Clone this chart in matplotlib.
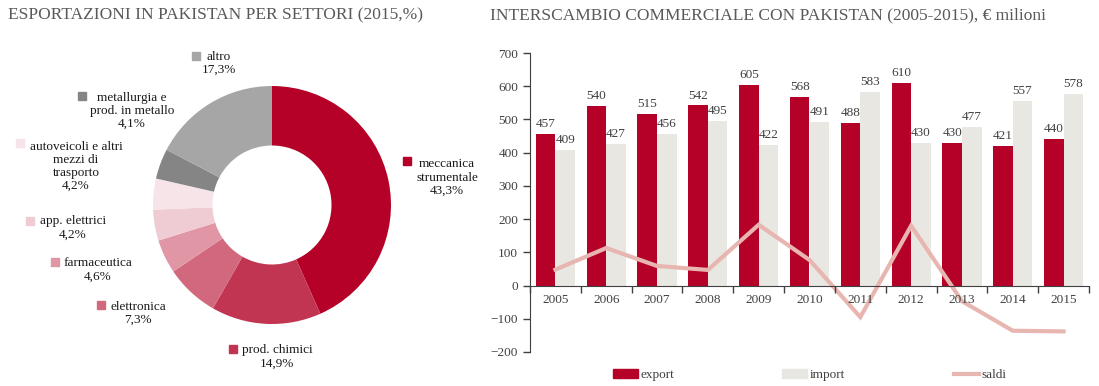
import numpy as np
import matplotlib
matplotlib.use("Agg")
import matplotlib.pyplot as plt
from matplotlib.patches import Patch
from matplotlib.lines import Line2D

plt.rcParams['font.family'] = ['Liberation Serif', 'DejaVu Serif']

# pie data (clockwise from top)
settori = ['meccanica\nstrumentale', 'prod. chimici', 'elettronica', 'farmaceutica',
           'app. elettrici', 'autoveicoli e altri\nmezzi di\ntrasporto',
           'metallurgia e\nprod. in metallo', 'altro']
quote = [43.3, 14.9, 7.3, 4.6, 4.2, 4.2, 4.1, 17.3]
colori_pie = ['#B50027', '#C23552', '#D2687D', '#E196A5', '#EFCCD3', '#F7E4E8',
              '#858585', '#A6A6A6']

# bar data
anni = ['2005', '2006', '2007', '2008', '2009', '2010', '2011', '2012', '2013', '2014', '2015']
export = [457, 540, 515, 542, 605, 568, 488, 610, 430, 421, 440]
imp = [409, 427, 456, 495, 422, 491, 583, 430, 477, 557, 578]
saldi = [e - i for e, i in zip(export, imp)]

W, H = 1099, 386
fig = plt.figure(figsize=(W / 100, H / 100), dpi=100)

def fx(x):
    return x / W

def fy(y):
    return 1 - y / H

gray_title = '#595959'
txt = '#1a1a1a'

# titles
fig.text(fx(8), fy(15), 'ESPORTAZIONI IN PAKISTAN PER SETTORI (2015,%)', fontsize=12.5,
         color=gray_title, va='center', ha='left')
fig.text(fx(490), fy(15), 'INTERSCAMBIO COMMERCIALE CON PAKISTAN (2005-2015), € milioni',
         fontsize=12.5, color=gray_title, va='center', ha='left')

# ---- donut ----
cx, cy, R = 272, 205, 119
ax1 = fig.add_axes([fx(cx - R), fy(cy + R), 2 * R / W, 2 * R / H])
ax1.pie(quote, colors=colori_pie, startangle=90, counterclock=False,
        radius=1, wedgeprops=dict(width=0.5, linewidth=0))
ax1.set_xlim(-1, 1)
ax1.set_ylim(-1, 1)
ax1.set_aspect('auto')
ax1.axis('off')

# label positions in pixels: (text center x, text center y, square x, square y)
label_pos = [(447, 177.5, 407, 161), (277, 357, 233, 349), (138, 313.5, 101, 305),
             (98, 270, 55, 262), (73, 228, 30, 221), (76, 166.5, 20, 143),
             (132, 111, 82, 96), (219, 63.5, 196, 56)]
for name, q, col, (tx, ty, sx, sy) in zip(settori, quote, colori_pie, label_pos):
    lab = name + '\n' + ('%.1f%%' % q).replace('.', ',')
    fig.text(fx(tx), fy(ty), lab, ha='center', va='center', multialignment='center',
             fontsize=9.5, color=txt, linespacing=1.12)
    ax1.plot([fx(sx)], [fy(sy)], marker='s', markersize=5.2, color=col,
             transform=fig.transFigure, clip_on=False)

# ---- bars ----
ax2 = fig.add_axes([fx(530), fy(352), (1089 - 530) / W, (352 - 53) / H])
ax2.set_axisbelow(False)  # axis (and year labels) above the saldi line
x = np.arange(len(anni))
bw = 0.385
c_exp = '#B50027'
c_imp = '#E9E7E2'
c_sal = '#E8B6B0'
ax2.bar(x - bw / 2, export, bw, color=c_exp, zorder=2)
ax2.bar(x + bw / 2, imp, bw, color=c_imp, zorder=2)
ax2.plot(x, saldi, color=c_sal, lw=3, zorder=2.3, solid_joinstyle='miter')

for xi, e, i in zip(x, export, imp):
    ax2.text(xi - bw / 2, e + 12, str(e), ha='center', va='bottom', fontsize=9.5, color='#404040')
    ax2.text(xi + bw / 2, i + 12, str(i), ha='center', va='bottom', fontsize=9.5, color='#404040')

ax2.set_xlim(-0.5, len(anni) - 0.5)
ax2.set_ylim(-200, 700)
ax2.set_yticks(range(-200, 701, 100))
ax2.tick_params(axis='y', labelsize=9.5, colors='#404040', length=5, width=1, direction='out')
ax2.spines['top'].set_visible(False)
ax2.spines['right'].set_visible(False)
ax2.spines['left'].set_color('#404040')
ax2.spines['bottom'].set_color('#404040')
ax2.spines['bottom'].set_position(('data', 0))
ax2.set_xticks(x)
ax2.set_xticklabels(anni)
ax2.set_xticks(np.arange(-0.5, len(anni), 1), minor=True)
ax2.tick_params(axis='x', which='major', length=0, labelsize=9.5, colors='#404040', pad=6)
ax2.tick_params(axis='x', which='minor', length=5, width=1, color='#404040', direction='out')

handles = [Patch(color=c_exp), Patch(color=c_imp), Line2D([0], [0], color=c_sal, lw=3)]
ax2.legend(handles, ['export', 'import', 'saldi'], loc='center', ncol=3,
           bbox_to_anchor=(0.5, (352 - 375) / 299), frameon=False, fontsize=9.5,
           handlelength=1.9, handleheight=0.6, handletextpad=0.2, columnspacing=8.2,
           labelcolor='#404040')

fig.savefig('out.png', dpi=100)
